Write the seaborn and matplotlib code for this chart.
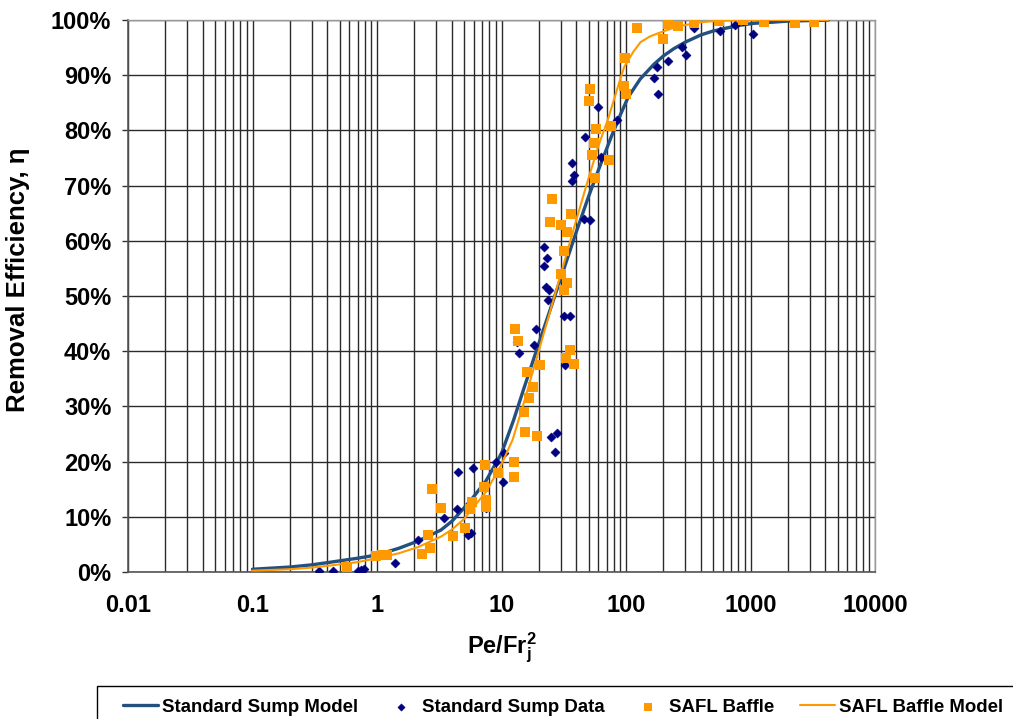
import numpy as np
import pandas as pd
import matplotlib
matplotlib.use("Agg")
import matplotlib.pyplot as plt
from matplotlib.patches import Rectangle
from matplotlib.ticker import FixedLocator, FuncFormatter, LogLocator, NullFormatter
import seaborn as sns

# ---- measured data (removal efficiency in %) ----
std_data_x = [0.342, 0.443, 0.704, 0.75, 0.786, 1.40, 2.13, 3.45, 4.39, 4.47, 5.38, 5.69,
              5.90, 7.51, 9.03, 10.3, 10.5, 13.3, 13.8, 18.2, 18.9, 21.9, 23.2, 21.9,
              22.7, 24.0, 23.6, 25.0, 27.9, 26.9, 32.4, 31.8, 35.5, 36.8, 38.2, 36.8,
              46.9, 46.0, 51.4, 59.6, 63.1, 84.7, 168, 177, 181, 218, 282, 303, 352,
              570, 754, 870, 1045]
std_data_y = [0.2, 0.2, 0.2, 0.3, 0.5, 1.6, 5.8, 9.8, 11.4, 18.1, 6.7, 7.1,
              18.8, 11.6, 19.9, 16.3, 21.6, 41.7, 39.7, 41.1, 44.0, 58.9, 56.9, 55.4,
              51.6, 51.1, 49.3, 24.5, 25.2, 21.7, 37.5, 46.4, 46.3, 74.1, 71.9, 70.8,
              78.8, 63.9, 63.8, 84.2, 75.2, 81.9, 89.5, 91.5, 86.6, 92.6, 95.1, 93.7, 98.5,
              98.0, 99.1, 99.9, 97.5]

safl_data_x = [0.574, 0.98, 1.1, 1.2, 2.3, 2.66, 2.57, 2.77, 3.26, 4.08, 5.1, 5.6, 5.8,
               7.37, 7.2, 7.5, 7.5, 9.3, 12.6, 12.6, 15.4, 19.2, 12.8, 13.5, 16.0, 17.9,
               16.6, 15.2, 20.3, 33.0, 35.5, 38.2, 25.4, 24.5, 30.0, 33.5, 36.1, 31.8,
               30.0, 33.5, 31.8, 51.4, 50.4, 57.5, 55.4, 53.4, 56.3, 73, 76, 98, 96.6,
               99.9, 122, 198, 218, 262, 352, 560, 870, 1290, 2270, 3220]
safl_data_y = [0.9, 2.9, 3.0, 3.1, 3.3, 4.3, 6.7, 15.0, 11.6, 6.5, 8.0, 11.4, 12.7,
               19.4, 15.4, 13.0, 11.8, 17.9, 19.9, 17.2, 25.4, 24.6, 44.0, 41.8, 36.2, 33.5,
               31.5, 29.0, 37.5, 38.8, 40.2, 37.6, 67.6, 63.4, 62.9, 61.6, 64.9, 58.2,
               54.0, 52.4, 51.1, 87.5, 85.3, 80.3, 77.7, 75.5, 71.4, 74.6, 80.8, 93.1, 88.0,
               86.6, 98.5, 96.6, 99.3, 98.9, 99.5, 99.8, 100.0, 99.6, 99.5, 99.6]

# ---- model curves ----
std_model_x = [0.1, 0.2, 0.3, 0.43, 0.7, 1, 1.5, 2.13, 3.26, 4, 5, 6, 7.5, 10, 12.5, 15,
               20, 25, 30, 40, 50, 60, 76, 90, 104, 130, 168, 200, 242, 300, 400, 500,
               660, 850, 1060, 1500, 2000, 3000, 4200]
std_model_y = [0.5, 0.9, 1.3, 1.8, 2.5, 3.1, 4.3, 5.6, 7.6, 9.2, 11.6, 13.7, 16.5, 21.5,
               27.5, 33.0, 41.5, 48.0, 53.3, 61.7, 68.0, 72.8, 78.8, 82.8, 86.0, 89.3,
               92.0, 93.5, 94.8, 96.0, 97.3, 98.0, 98.6, 99.1, 99.4, 99.6, 99.8, 99.9, 100]

safl_model_x = [0.1, 0.2, 0.3, 0.43, 0.7, 1, 1.5, 2.13, 3.26, 4, 5, 5.7, 7.5, 10, 12.3,
                15, 20, 25, 30, 40, 49.5, 60, 71.6, 85, 96.6, 115, 131, 155, 181, 242,
                300, 400, 580, 1000, 2000, 4200]
safl_model_y = [0.25, 0.5, 0.8, 1.2, 1.8, 2.5, 3.4, 4.5, 6.4, 7.7, 9.6, 11.2, 14.5, 19.5,
                24.0, 30.4, 40.2, 47.8, 54.0, 63.9, 71.0, 77.2, 82.0, 87.5, 91.5, 94.3,
                96.0, 97.0, 97.6, 98.6, 99.1, 99.6, 99.9, 100, 100, 100]

x_ticks = [0.01, 0.1, 1, 10, 100, 1000, 10000]
x_tick_labels = ["0.01", "0.1", "1", "10", "100", "1000", "10000"]
y_ticks = list(range(0, 101, 10))

# ---- style ----
sns.set_style("white")
plt.rcParams["font.family"] = ["Liberation Sans", "DejaVu Sans"]
plt.rcParams["font.weight"] = "bold"
plt.rcParams["text.color"] = "black"
plt.rcParams["axes.labelcolor"] = "black"
plt.rcParams["xtick.color"] = "black"
plt.rcParams["ytick.color"] = "black"
plt.rcParams["mathtext.fontset"] = "custom"
plt.rcParams["mathtext.rm"] = "Liberation Sans:bold"
plt.rcParams["mathtext.bf"] = "Liberation Sans:bold"
plt.rcParams["mathtext.it"] = "Liberation Sans:bold"

W, H = 1013, 719
fig = plt.figure(figsize=(W / 100, H / 100), dpi=100)
ax = fig.add_axes([128 / W, 1 - 572 / H, (875 - 128) / W, (572 - 20) / H])

blue_line = "#23507F"
navy = "#000080"
orange = "#FF9900"

std_model = pd.DataFrame({"x": std_model_x, "y": std_model_y})
std_pts = pd.DataFrame({"x": std_data_x, "y": std_data_y})
safl_pts = pd.DataFrame({"x": safl_data_x, "y": safl_data_y})
safl_model = pd.DataFrame({"x": safl_model_x, "y": safl_model_y})

sns.lineplot(data=std_model, x="x", y="y", ax=ax, color=blue_line, lw=2.4,
             sort=False, estimator=None, label="Standard Sump Model", zorder=3)
sns.scatterplot(data=std_pts, x="x", y="y", ax=ax, marker="D", s=22, color=navy,
                edgecolor=navy, linewidth=0.3, label="Standard Sump Data", zorder=4)
sns.scatterplot(data=safl_pts, x="x", y="y", ax=ax, marker="s", s=50, color=orange,
                edgecolor=orange, linewidth=0, label="SAFL Baffle", zorder=5)
sns.lineplot(data=safl_model, x="x", y="y", ax=ax, color=orange, lw=1.5,
             sort=False, estimator=None, label="SAFL Baffle Model", zorder=6)

ax.set_xscale("log")
ax.set_xlim(0.01, 10000)
ax.set_ylim(0, 100)

ax.xaxis.set_major_locator(FixedLocator(x_ticks))
ax.xaxis.set_major_formatter(FuncFormatter(lambda v, p: x_tick_labels[x_ticks.index(v)]
                                           if v in x_ticks else ""))
ax.xaxis.set_minor_locator(LogLocator(base=10, subs=np.arange(2, 10), numticks=100))
ax.xaxis.set_minor_formatter(NullFormatter())
ax.yaxis.set_major_locator(FixedLocator(y_ticks))
ax.yaxis.set_major_formatter(FuncFormatter(lambda v, p: f"{int(round(v))}%"))

ax.grid(True, which="major", axis="both", color="#2b2b2b", lw=1.0)
ax.grid(True, which="minor", axis="x", color="#2b2b2b", lw=1.0)
ax.set_axisbelow(True)

ax.tick_params(axis="x", which="both", length=0, pad=16, labelsize=17)
ax.tick_params(axis="y", which="major", direction="out", length=4, width=1,
               color="#333333", pad=8, labelsize=17, left=True)
for lbl in ax.get_xticklabels() + ax.get_yticklabels():
    lbl.set_fontweight("bold")

for side in ["left", "bottom"]:
    ax.spines[side].set_color("#555555")
    ax.spines[side].set_linewidth(1.2)
for side in ["top", "right"]:
    ax.spines[side].set_color("#999999")
    ax.spines[side].set_linewidth(1.0)

ax.set_xlabel(r"$\mathbf{Pe/Fr}_\mathbf{j}^\mathbf{2}$", fontsize=17, labelpad=10)
ax.set_ylabel("Removal Efficiency, η", fontsize=18.5, fontweight="bold")
ax.yaxis.set_label_coords(-0.131, 0.53)

# legend along the bottom inside a frame
handles, labels = ax.get_legend_handles_labels()
ax.get_legend().remove()
fig.legend(handles, labels, loc="center left", bbox_to_anchor=(123 / W, 1 - 707 / H),
           ncol=4, frameon=False, prop={"weight": "bold", "size": 13.4},
           handlelength=1.9, handletextpad=0.2, columnspacing=1.35, borderpad=0,
           borderaxespad=0, markerscale=0.8)
fig.patches.append(Rectangle((97 / W, -0.1), 2, (1 - 686 / H) + 0.1,
                             transform=fig.transFigure, fill=False,
                             edgecolor="black", lw=1.0))

fig.savefig("out.png", dpi=100)
